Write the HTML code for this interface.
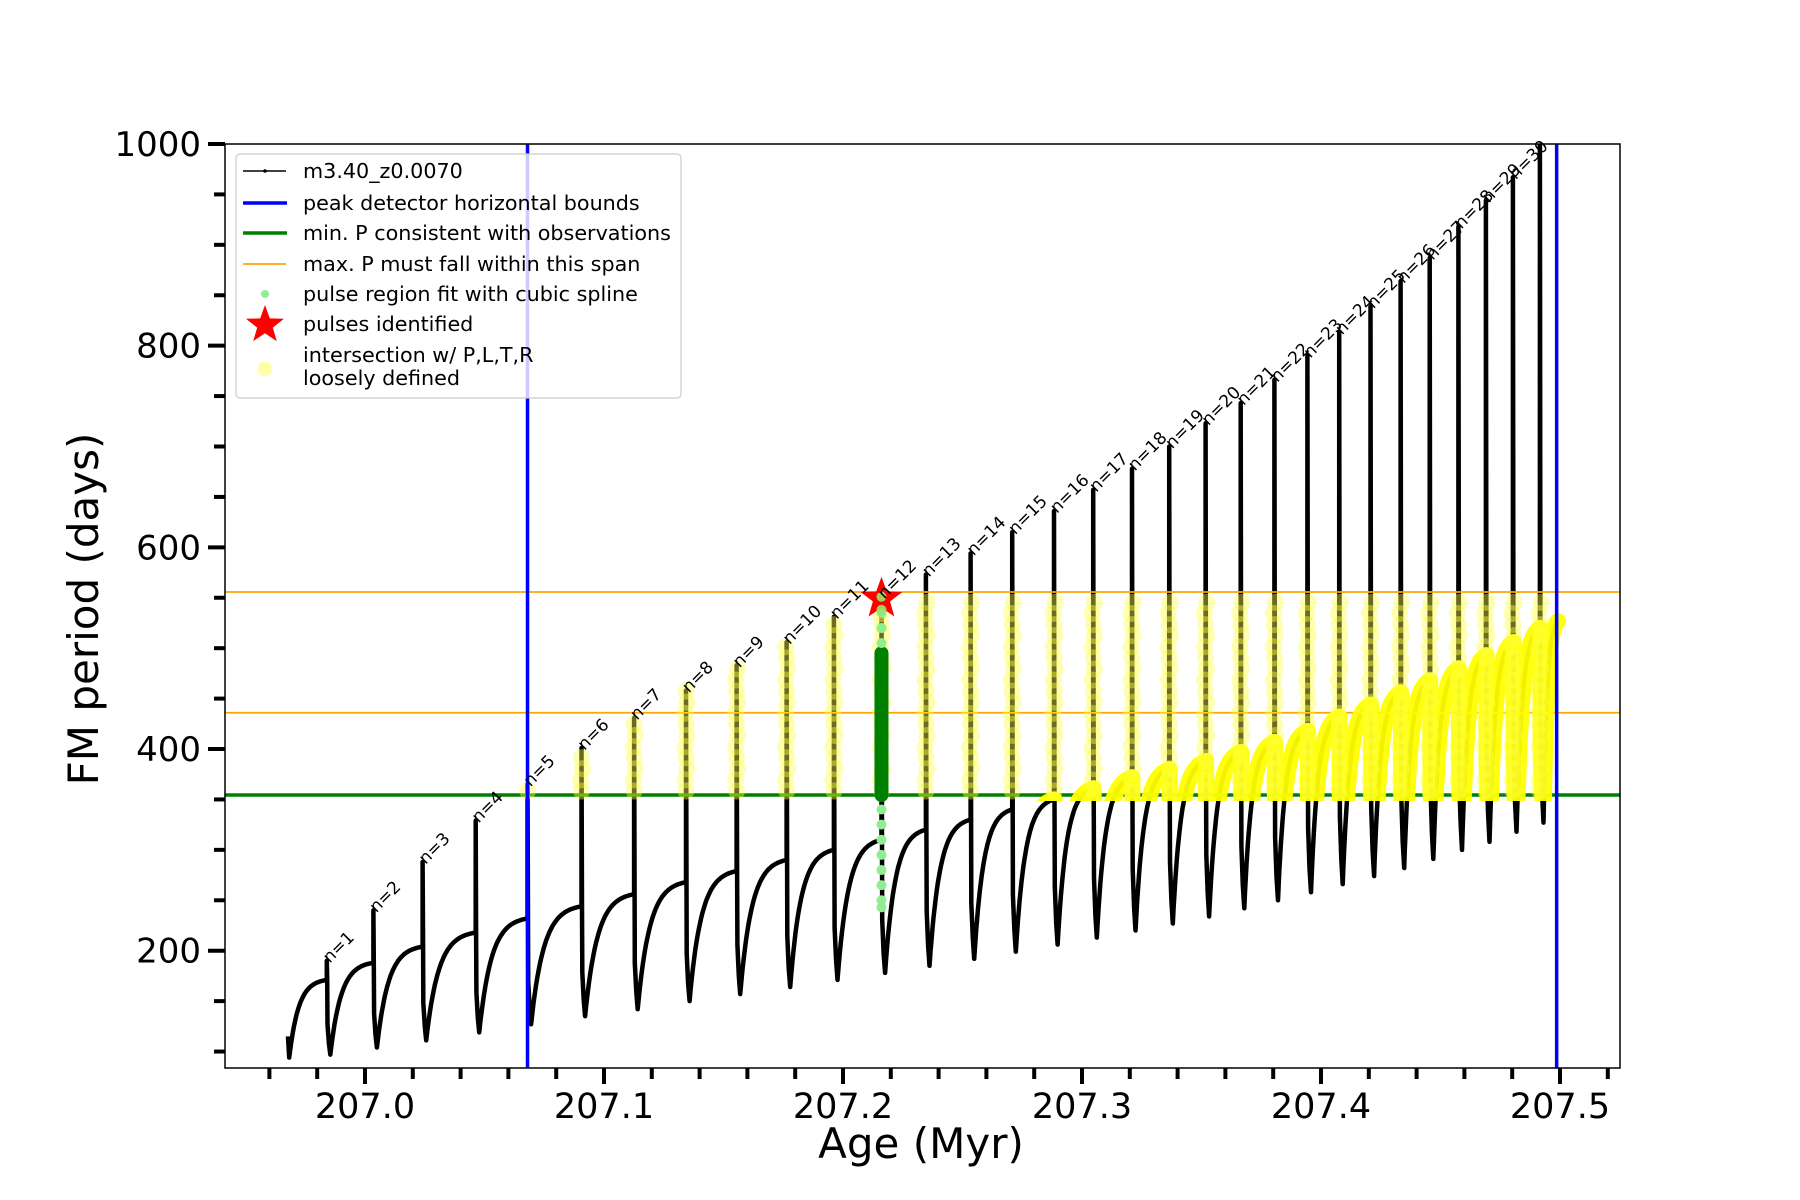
<!DOCTYPE html>
<html><head><meta charset="utf-8"><style>
html,body{margin:0;padding:0;background:#fff;}
svg{display:block;font-family:"DejaVu Sans","Liberation Sans",sans-serif;}
</style></head><body>
<svg id="chart" width="1800" height="1200" viewBox="0 0 1800 1200" xmlns="http://www.w3.org/2000/svg">
<defs><clipPath id="plotclip"><rect x="225" y="144" width="1395" height="924"/></clipPath>
<clipPath id="yelclip"><rect x="225" y="144" width="1395" height="657"/></clipPath></defs>
<rect x="0" y="0" width="1800" height="1200" fill="#fff"/>
<g id="plot" clip-path="url(#plotclip)"></g>
<g id="axes"></g>
</svg>
<script>
const pulseAge=[206.9840,207.0035,207.0241,207.0463,207.0680,207.0906,207.1126,207.1343,207.1555,207.1764,207.1962,207.2161,207.2347,207.2534,207.2708,207.2883,207.3047,207.3209,207.3365,207.3517,207.3664,207.3805,207.3943,207.4076,207.4207,207.4333,207.4455,207.4575,207.4690,207.4803,207.4916];
const peakP=[190,240,288,329,365,401,431,458,483,506,531,551,573,594,615,636,657,678,700,723,743,766,790,813,839,864,887,918,944,967,1000];
const plateauP=[171,188,204,218,232,244,256,268,279,290,300,310,320,330,340,350,361,372,380,388,397,407,418,432,444,456,468,480,493,506,520];
const minP=[97,104,111,119,127,135,142,150,157,164,171,178,185,192,199,206,213,220,227,234,242,250,258,266,274,282,291,300,308,318,327];
const startAge=206.9678, startP=115, startMin=94, endAge=207.4992, endP=527;
const blueBounds=[207.068,207.4986];
const greenLine=[354.4];
const orangeLines=[436,555.7];
const starIndex=11;
const greenTop=495;
const lightGreenVals=[505,520,535,548,340,325,310,295,280,265,250,243];
const xMajorTicks=[207.0,207.1,207.2,207.3,207.4,207.5];
const xMajorLabels=["207.0","207.1","207.2","207.3","207.4","207.5"];
const xMinorTicks=[206.96,206.98,207.02,207.04,207.06,207.08,207.12,207.14,207.16,207.18,207.22,207.24,207.26,207.28,207.32,207.34,207.36,207.38,207.42,207.44,207.46,207.48,207.52];
const yMajorTicks=[200,400,600,800,1000];
const yMajorLabels=["200","400","600","800","1000"];
const yMinorTicks=[100,150,250,300,350,450,500,550,650,700,750,850,900,950];

const NS="http://www.w3.org/2000/svg";
const X=a=>365+(a-207)*2390;
const Y=v=>950.7-(v-200)*1.0084;
const plot=document.getElementById('plot');
const axes=document.getElementById('axes');
function mk(tag,attrs,parent){const e=document.createElementNS(NS,tag);for(const k in attrs)e.setAttribute(k,attrs[k]);(parent||plot).appendChild(e);return e;}

const pts=[];
function rise(t0,v0,t1,v1){const L=t1-t0,tau=0.25*L,N=40,den=1-Math.exp(-L/tau);
  for(let i=0;i<=N;i++){const s=L*i/N;pts.push([t0+s,v0+(v1-v0)*(1-Math.exp(-s/tau))/den]);}}
pts.push([startAge,startP]);
rise(startAge+0.0005,startMin,pulseAge[0],plateauP[0]);
const riseSegs=[];
for(let k=0;k<pulseAge.length;k++){
  const t=pulseAge[k];
  pts.push([t,plateauP[k]]);pts.push([t,peakP[k]]);
  const segStart=pts.length;
  pts.push([t+0.0002,plateauP[k]]);
  pts.push([t+0.0003,(plateauP[k]*0.4+minP[k]*0.6)]);
  pts.push([t+0.0009,(plateauP[k]*0.15+minP[k]*0.85)]);
  const t1=k+1<pulseAge.length?pulseAge[k+1]:endAge;
  const v1=k+1<pulseAge.length?plateauP[k+1]:endP;
  rise(t+0.0015,minP[k],t1,v1);
  riseSegs.push(pts.slice(segStart));
}
const toStr=a=>a.map(p=>X(p[0]).toFixed(1)+','+Y(p[1]).toFixed(1)).join(' ');

const curve=mk('polyline',{points:toStr(pts),fill:'none',stroke:'#000','stroke-width':4.5,'stroke-linejoin':'round'});



greenLine.forEach(v=>{const l=mk('line',{x1:225,x2:1620,y1:Y(v),y2:Y(v),stroke:'#008000','stroke-width':3.5});

});
orangeLines.forEach(v=>{const l=mk('line',{x1:225,x2:1620,y1:Y(v),y2:Y(v),stroke:'#ffa500','stroke-width':1.8});

});

const yg=mk('g',{'clip-path':'url(#yelclip)'});
riseSegs.forEach((seg,k)=>{if(pulseAge[k]<blueBounds[0])return;
  const p=mk('polyline',{points:toStr(seg),fill:'none',stroke:'#ffff00','stroke-width':16,'stroke-linecap':'round','stroke-linejoin':'round',opacity:0.95},yg);
  
  });
pulseAge.forEach((t,k)=>{if(t<blueBounds[0]-0.001)return;
  const top=Math.min(peakP[k],orangeLines[1]);
  for(let v=greenLine[0]+4;v<=top;v+=11){
    const c=mk('circle',{cx:X(t)+((Math.round(v)%3)-1),cy:Y(v),r:8.5,fill:'#ffff44',opacity:0.42});
    
    }
});
const ts=pulseAge[starIndex];
const gl=mk('line',{x1:X(ts),x2:X(ts),y1:Y(greenLine[0]),y2:Y(greenTop),stroke:'#008000','stroke-width':14,'stroke-linecap':'round'});


lightGreenVals.forEach(v=>{const c=mk('circle',{cx:X(ts),cy:Y(v),r:5,fill:'#90ee90'});

});
function starPath(cx,cy,R,r){let d='';for(let i=0;i<10;i++){const a=-Math.PI/2+i*Math.PI/5,rr=i%2?r:R;d+=(i?'L':'M')+(cx+rr*Math.cos(a)).toFixed(1)+','+(cy+rr*Math.sin(a)).toFixed(1);}return d+'Z';}
const st=mk('path',{d:starPath(X(ts),Y(peakP[starIndex])+2,22,9),fill:'#ff0000'});


mk('circle',{cx:X(ts),cy:Y(peakP[starIndex]),r:5,fill:'#9be36b',opacity:0.9});
mk('circle',{cx:X(ts),cy:Y(peakP[starIndex])+13,r:5,fill:'#9be36b',opacity:0.9});

blueBounds.forEach(a=>{const l=mk('line',{x1:X(a),x2:X(a),y1:144,y2:1068,stroke:'#0000ff','stroke-width':3.5});

});

pulseAge.slice(0,30).forEach((t,k)=>{const x=X(t)+3,y=Y(peakP[k])+3;
  const tx=mk('text',{x:x,y:y,'font-size':17,fill:'#000',transform:`rotate(-45 ${x} ${y})`},axes);
  tx.textContent='n='+(k+1);
  
  });

const fr=mk('rect',{x:225,y:144,width:1395,height:924,fill:'none',stroke:'#000','stroke-width':1.5},axes);


xMajorTicks.forEach((a,i)=>{mk('line',{x1:X(a),x2:X(a),y1:1068,y2:1084,stroke:'#000','stroke-width':4},axes);
  const t=mk('text',{x:X(a),y:1118,'font-size':35,'text-anchor':'middle',fill:'#000'},axes);t.textContent=xMajorLabels[i];
  
  });
xMinorTicks.forEach(a=>{if(X(a)>225&&X(a)<1620)mk('line',{x1:X(a),x2:X(a),y1:1068,y2:1079,stroke:'#000','stroke-width':4},axes);});
yMajorTicks.forEach((v,i)=>{mk('line',{x1:208,x2:225,y1:Y(v),y2:Y(v),stroke:'#000','stroke-width':4},axes);
  const t=mk('text',{x:201,y:Y(v)+12,'font-size':34,'text-anchor':'end',fill:'#000'},axes);t.textContent=yMajorLabels[i];
  
  });
yMinorTicks.forEach(v=>{mk('line',{x1:214,x2:225,y1:Y(v),y2:Y(v),stroke:'#000','stroke-width':4},axes);});
</script>
<svg style="position:absolute;left:0;top:0" width="1800" height="1200">
<text x="921" y="1158" font-size="42" text-anchor="middle" font-family="DejaVu Sans, Liberation Sans, sans-serif">Age (Myr)</text>
<text x="0" y="0" font-size="42" text-anchor="middle" transform="translate(98 609) rotate(-90)" font-family="DejaVu Sans, Liberation Sans, sans-serif">FM period (days)</text>
<g font-family="DejaVu Sans, Liberation Sans, sans-serif" font-size="20.7">
<rect x="236" y="154" width="445" height="244" rx="4" fill="#fff" fill-opacity="0.8" stroke="#ccc" stroke-width="1.2"/>
<g><line x1="243" x2="286" y1="171" y2="171" stroke="#000" stroke-width="1.5"/><circle cx="265" cy="171" r="1.8"/><text x="303" y="178">m3.40_z0.0070</text></g>
<g><line x1="243" x2="287" y1="203" y2="203" stroke="#0000ff" stroke-width="3.5"/><text x="303" y="210">peak detector horizontal bounds</text></g>
<g><line x1="243" x2="287" y1="233" y2="233" stroke="#008000" stroke-width="3.5"/><text x="303" y="240">min. P consistent with observations</text></g>
<g><line x1="243" x2="286" y1="264" y2="264" stroke="#ffa500" stroke-width="1.8"/><text x="303" y="271">max. P must fall within this span</text></g>
<g><circle cx="265" cy="294" r="4" fill="#90ee90"/><text x="303" y="301">pulse region fit with cubic spline</text></g>
<g><path d="M265,305 L269.8,318.4 L284,318.8 L272.8,327.6 L276.8,341.2 L265,333.2 L253.2,341.2 L257.2,327.6 L246,318.8 L260.2,318.4 Z" fill="#ff0000"/><text x="303" y="331">pulses identified</text></g>
<g><circle cx="265" cy="369" r="7.5" fill="#ffffaa"/><text x="303" y="362">intersection w/ P,L,T,R</text><text x="303" y="385">loosely defined</text></g>
</g>
</svg>
</body></html>
